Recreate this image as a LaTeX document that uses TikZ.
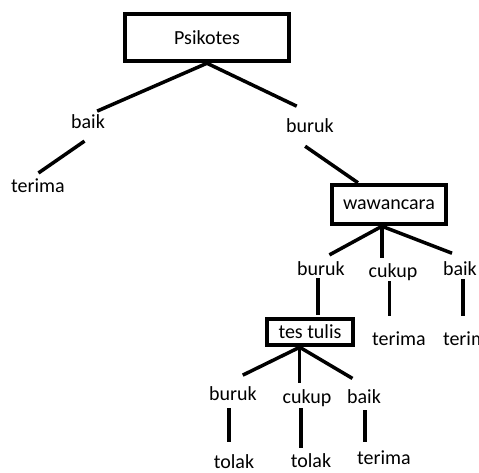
\documentclass[tikz,border=0pt]{standalone}
\usepackage{fontspec}
\setmainfont{Carlito}

\begin{document}
\begin{tikzpicture}[x=1pt,y=1pt,line width=3.5pt]
  \tikzset{
  box/.style={
    rectangle,
    draw=black,
    line width=4.5pt,
    inner sep=0pt,
    font=\fontsize{20}{24}\selectfont
  },
  lbl/.style={
    inner sep=0pt,
    outer sep=0pt,
    anchor=base,
    font=\fontsize{20}{24}\selectfont
  }
}
\useasboundingbox (0,0) rectangle (479,-473);

\node[box, minimum width=164pt, minimum height=47pt] at (207,-37.5)
  (psikotes) {Psikotes};
\node[box, minimum width=114pt, minimum height=39pt] at (389,-204.5)
  (wawancara) {wawancara};
\node[box, minimum width=86pt, minimum height=26pt] at (310,-332)
  (testulis) {tes tulis};

\node[lbl] at (88,-129)
  (baik1) {baik};
\node[lbl] at (310,-133)
  (buruk1) {buruk};
\node[lbl] at (38,-193)
  (terima1) {terima};

\node[lbl] at (321,-275)
  (buruk2) {buruk};
\node[lbl] at (393,-277)
  (cukup2) {cukup};
\node[lbl, anchor=base west] at (443,-275)
  (baik2) {baik};
\node[lbl] at (399,-345)
  (terima2) {terima};
\node[lbl, anchor=base west] at (443,-345)
  (terima3) {terima};

\node[lbl] at (233,-400)
  (buruk3) {buruk};
\node[lbl] at (307,-403)
  (cukup3) {cukup};
\node[lbl] at (364,-403)
  (baik3) {baik};
\node[lbl] at (234,-468.5)
  (tolak1) {tolak};
\node[lbl] at (311,-467)
  (tolak2) {tolak};
\node[lbl] at (384,-464)
  (terima4) {terima};

  % psikotes
  \draw[shorten >=10pt] (psikotes.south) -- (baik1.north);
  \draw[shorten >=30pt] (psikotes.south) -- (buruk1.27);
  \draw[shorten <=21pt, shorten >=11pt] (baik1.-27) -- (terima1.141);
  \draw[shorten <=23pt] (buruk1.south west) -- (wawancara.145);

  % wawancara
  \draw[shorten >=13pt] (wawancara.252) -- (buruk2.113);
  \draw[shorten >=5pt] (wawancara.252) -- (wawancara.252 |- cukup2.north);
  \draw[shorten >=22pt] (wawancara.252) -- (baik2.29);
  \draw[shorten <=3pt, shorten >=2pt] (buruk2.247) -- (buruk2.247 |- testulis.north);
  \draw[shorten <=1pt, shorten >=15pt] (cukup2.247) -- (cukup2.247 |- terima2.north);
  \draw[shorten <=4pt, shorten >=15pt] (baik2.-67) -- (baik2.-67 |- terima3.north);

  % tes tulis
  \draw[shorten >=25pt] (testulis.236) -- (buruk3.151);
  \draw[shorten >=6pt] (testulis.236) -- (testulis.236 |- cukup3.north);
  \draw[shorten >=21pt] (testulis.236) -- (baik3.47);
  \draw[shorten <=8pt, shorten >=13pt] (buruk3.240) -- (buruk3.240 |- tolak1.north);
  \draw[shorten <=2pt, shorten >=5pt] (cukup3.234) -- (cukup3.234 |- tolak2.north);
  \draw[shorten <=7pt, shorten >=8pt] (baik3.-82) -- (baik3.-82 |- terima4.north);
\end{tikzpicture}
\end{document}
